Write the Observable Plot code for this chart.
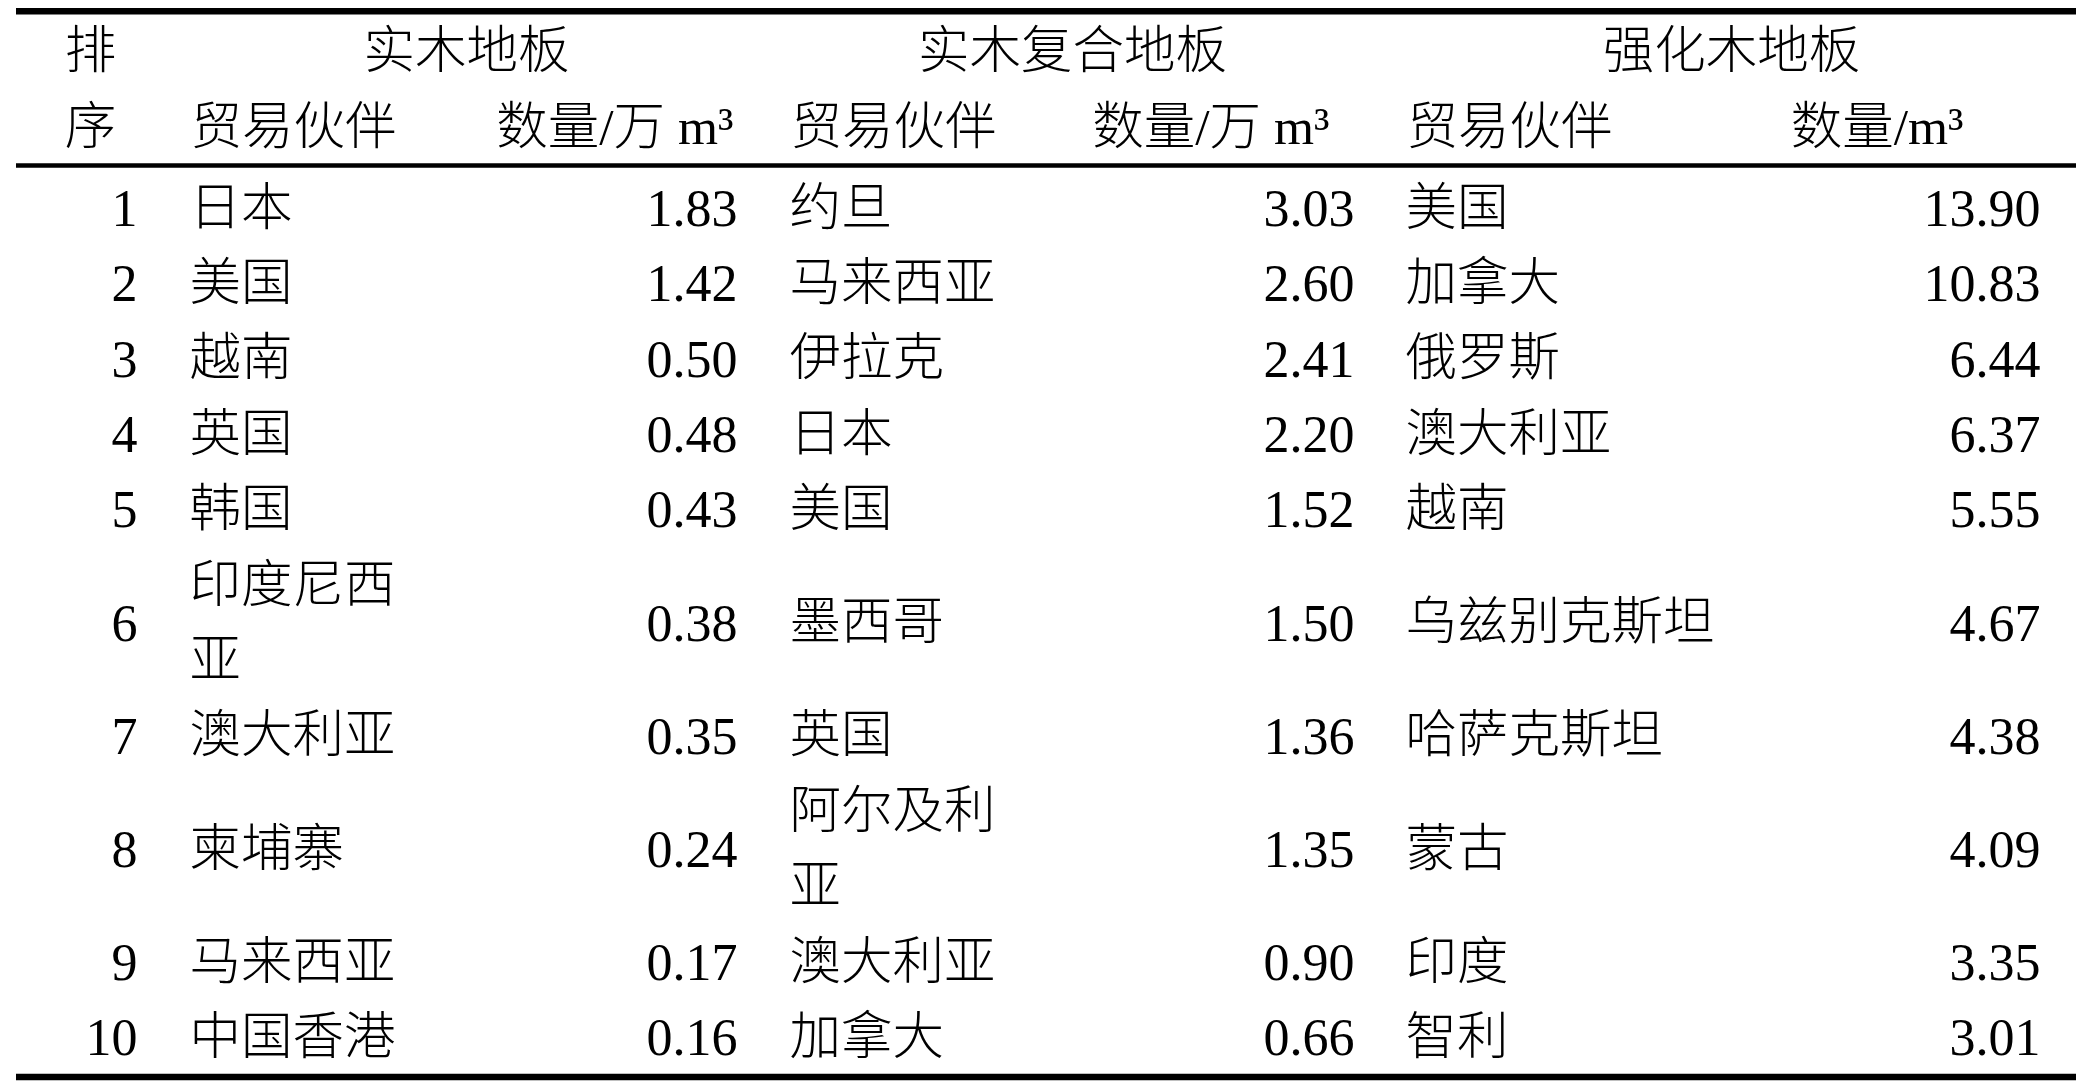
<!DOCTYPE html>
<html>
<head>
<meta charset="utf-8">
<script src="https://cdn.jsdelivr.net/npm/d3@7"></script>
<script src="https://cdn.jsdelivr.net/npm/@observablehq/plot@0.6"></script>
<style>
  html, body { margin: 0; padding: 0; background: #fff; }
  #chart svg { display: block; background: #fff; }
</style>
</head>
<body>
<div id="chart"></div>
<script>
// ---------- data ----------
const ranks = [1, 2, 3, 4, 5, 6, 7, 8, 9, 10];
const groupHeaders = ["实木地板", "实木复合地板", "强化木地板"];
const rankHeader = "排序";
const partnerHeader = "贸易伙伴";
const unitHeaders = ["数量/万 m³", "数量/万 m³", "数量/m³"];

const solidPartners = ["日本", "美国", "越南", "英国", "韩国", "印度尼西亚", "澳大利亚", "柬埔寨", "马来西亚", "中国香港"];
const solidValues = [1.83, 1.42, 0.50, 0.48, 0.43, 0.38, 0.35, 0.24, 0.17, 0.16];

const engPartners = ["约旦", "马来西亚", "伊拉克", "日本", "美国", "墨西哥", "英国", "阿尔及利亚", "澳大利亚", "加拿大"];
const engValues = [3.03, 2.60, 2.41, 2.20, 1.52, 1.50, 1.36, 1.35, 0.90, 0.66];

const lamPartners = ["美国", "加拿大", "俄罗斯", "澳大利亚", "越南", "乌兹别克斯坦", "哈萨克斯坦", "蒙古", "印度", "智利"];
const lamValues = [13.90, 10.83, 6.44, 6.37, 5.55, 4.67, 4.38, 4.09, 3.35, 3.01];

// ---------- layout ----------
const W = 2079, H = 1084;
const FONT = 51.5, NUMFONT = 52;
const LINE = 75.4; // px per text line
const col = {
  rank: 137, rankHead: 90,
  name1: 189, val1: 737, unit1: 733, group1: 466,
  name2: 789, val2: 1354, unit2: 1329, group2: 1072,
  name3: 1405, val3: 2040, unit3: 1963, group3: 1731
};
const wrapChars = [4, 4, 8]; // name column capacity in characters
const wrap = (s, n) => {
  const parts = [];
  for (let i = 0; i < s.length; i += n) parts.push(s.slice(i, i + n));
  return parts.join("\n");
};
const lineCount = (s) => s.split("\n").length;

// y unit = text line; 0 = centre of first data line
const uTopRule = -2.63, uHeadRule = -0.585, uBottomRule = 11.505;
const uHead1 = -2.08, uHead2 = -1.075;

const groups = [
  {partners: solidPartners, values: solidValues, name: col.name1, val: col.val1},
  {partners: engPartners, values: engValues, name: col.name2, val: col.val2},
  {partners: lamPartners, values: lamValues, name: col.name3, val: col.val3}
];

const startCells = [], numCells = [], endCells = [], middleCells = [];
let cursor = 0;
ranks.forEach((r, i) => {
  const names = groups.map((g, k) => wrap(g.partners[i], wrapChars[k]));
  const lines = d3.max(names, lineCount);
  const u = cursor + (lines - 1) / 2;
  numCells.push({x: col.rank, u, text: String(r)});
  groups.forEach((g, k) => {
    startCells.push({x: g.name, u, text: names[k]});
    numCells.push({x: g.val, u, text: g.values[i].toFixed(2)});
  });
  cursor += lines;
});

// headers
startCells.push({x: col.name1 + 1, u: uHead2, text: partnerHeader});
startCells.push({x: col.name2 + 1, u: uHead2, text: partnerHeader});
startCells.push({x: col.name3 + 1, u: uHead2, text: partnerHeader});
endCells.push({x: col.unit1, u: uHead2, text: unitHeaders[0]});
endCells.push({x: col.unit2, u: uHead2, text: unitHeaders[1]});
endCells.push({x: col.unit3, u: uHead2, text: unitHeaders[2]});
middleCells.push({x: col.group1, u: uHead1, text: groupHeaders[0]});
middleCells.push({x: col.group2, u: uHead1, text: groupHeaders[1]});
middleCells.push({x: col.group3, u: uHead1, text: groupHeaders[2]});
middleCells.push({x: col.rankHead, u: uHead1, text: rankHeader[0]});
middleCells.push({x: col.rankHead, u: uHead2, text: rankHeader[1]});

const textOpts = {
  x: "x", y: "u", text: "text",
  fontSize: FONT, lineHeight: LINE / FONT, fill: "#000", dy: -9,
  fontWeight: 300,
  fontFamily: "'Liberation Serif', 'Noto Sans CJK SC', serif"
};

const chart = Plot.plot({
  width: W,
  height: H,
  margin: 0,
  x: {domain: [0, W], range: [0, W], axis: null},
  y: {domain: [uTopRule, uBottomRule], range: [10.7, 1076.5], axis: null},
  marks: [
    Plot.ruleY([uTopRule], {x1: 16, x2: 2076, stroke: "#000", strokeWidth: 6.5}),
    Plot.ruleY([uHeadRule], {x1: 16, x2: 2076, stroke: "#000", strokeWidth: 4.5}),
    Plot.ruleY([uBottomRule], {x1: 16, x2: 2076, stroke: "#000", strokeWidth: 6.5}),
    Plot.text(startCells, {...textOpts, textAnchor: "start"}),
    Plot.text(numCells, {...textOpts, fontSize: NUMFONT, dy: -8, textAnchor: "end"}),
    Plot.text(endCells, {...textOpts, textAnchor: "end"}),
    Plot.text(middleCells, {...textOpts, textAnchor: "middle"})
  ]
});
document.getElementById("chart").appendChild(chart);
</script>
</body>
</html>
